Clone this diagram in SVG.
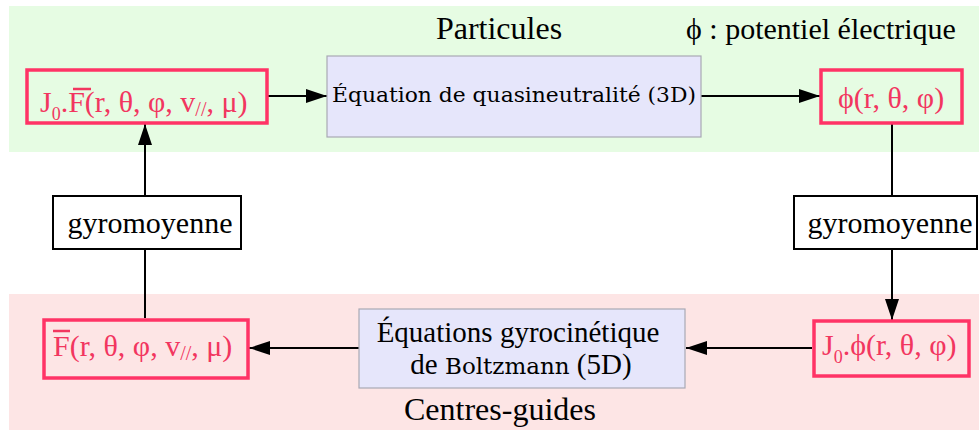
<svg xmlns="http://www.w3.org/2000/svg" width="979" height="430" viewBox="0 0 979 430">
  <defs>
    <style>
      text { font-family: "Liberation Serif", "Times New Roman", serif; fill: #000; }
      .lbl { font-size: 30px; }
      .big { font-size: 32px; }
      .red { fill: #f2365f; font-size: 30px; }
      .cm { font-family: "DejaVu Serif", "Liberation Serif", serif; }
      .rbox { fill: none; stroke: #ff3366; stroke-width: 3.5; }
      .bbox { fill: #ffffff; stroke: #000; stroke-width: 2; }
      .pbox { fill: #e6e6fb; stroke: #a9a9b4; stroke-width: 1.2; }
      .conn line { stroke: #000; stroke-width: 2; fill: none; }
      .bar { stroke: #f2365f; stroke-width: 2.5; }
    </style>
    <marker id="arr" markerUnits="userSpaceOnUse" markerWidth="21" markerHeight="14" refX="21" refY="7" orient="auto">
      <path d="M0,0 L21,7 L0,14 z" fill="#000"/>
    </marker>
  </defs>

  <!-- bands -->
  <rect x="9" y="6" width="970" height="146" fill="#e6fce3"/>
  <rect x="9" y="294" width="970" height="136" fill="#fde5e5"/>
  <text class="big" x="499" y="39" text-anchor="middle">Particules</text>
  <text class="lbl" x="686" y="39">ϕ : potentiel électrique</text>
  <text class="big" x="500" y="420" text-anchor="middle">Centres-guides</text>

  <!-- connectors -->
  <g class="conn">
    <line x1="268" y1="96" x2="327" y2="96" marker-end="url(#arr)"/>
    <line x1="701" y1="96" x2="820" y2="96" marker-end="url(#arr)"/>
    <line x1="892" y1="124" x2="892" y2="196"/>
    <line x1="892" y1="249" x2="892" y2="320" marker-end="url(#arr)"/>
    <line x1="812" y1="348" x2="686" y2="348" marker-end="url(#arr)"/>
    <line x1="359" y1="348" x2="249" y2="348" marker-end="url(#arr)"/>
    <line x1="145" y1="318" x2="145" y2="249"/>
    <line x1="145" y1="196" x2="145" y2="124" marker-end="url(#arr)"/>
  </g>

  <g id="node-j0f">
    <rect class="rbox" x="27" y="70" width="240" height="53"/>
    <text class="red" x="40" y="112">J<tspan font-size="18" dy="8">0</tspan><tspan dy="-8">.F(r, θ, φ, v</tspan><tspan font-size="20" dy="4">//</tspan><tspan dy="-4">, μ)</tspan></text>
    <line class="bar" x1="73" y1="89" x2="91" y2="89"/>
  </g>

  <g id="node-quasi">
    <rect class="pbox" x="327" y="56" width="374" height="81"/>
    <text class="cm" x="514" y="102" font-size="21" text-anchor="middle" textLength="364" lengthAdjust="spacingAndGlyphs">Équation de quasineutralité (3D)</text>
  </g>

  <g id="node-phi">
    <rect class="rbox" x="821" y="70" width="141" height="53"/>
    <text class="red" x="891" y="108" text-anchor="middle">ϕ(r, θ, φ)</text>
  </g>

  <g id="node-gyro-left">
    <rect class="bbox" x="53" y="196" width="188" height="53"/>
    <text class="lbl" x="150" y="233" text-anchor="middle">gyromoyenne</text>
  </g>

  <g id="node-gyro-right">
    <rect class="bbox" x="794" y="196" width="183" height="53"/>
    <text class="lbl" x="890" y="233" text-anchor="middle">gyromoyenne</text>
  </g>

  <g id="node-f">
    <rect class="rbox" x="44" y="320" width="204" height="58"/>
    <text class="red" x="53" y="356">F(r, θ, φ, v<tspan font-size="20" dy="4">//</tspan><tspan dy="-4">, μ)</tspan></text>
    <line class="bar" x1="53" y1="331" x2="70" y2="331"/>
  </g>

  <g id="node-boltz">
    <rect class="pbox" x="359" y="309" width="326" height="79"/>
    <text x="518" y="342" font-size="29" text-anchor="middle">Équations gyrocinétique</text>
    <text x="521" y="374" font-size="29" text-anchor="middle">de <tspan class="cm" font-size="23">Boltzmann</tspan> (5D)</text>
  </g>

  <g id="node-j0phi">
    <rect class="rbox" x="814" y="321" width="155" height="55"/>
    <text class="red" x="822" y="355">J<tspan font-size="18" dy="8">0</tspan><tspan dy="-8">.ϕ(r, θ, φ)</tspan></text>
  </g>
</svg>
